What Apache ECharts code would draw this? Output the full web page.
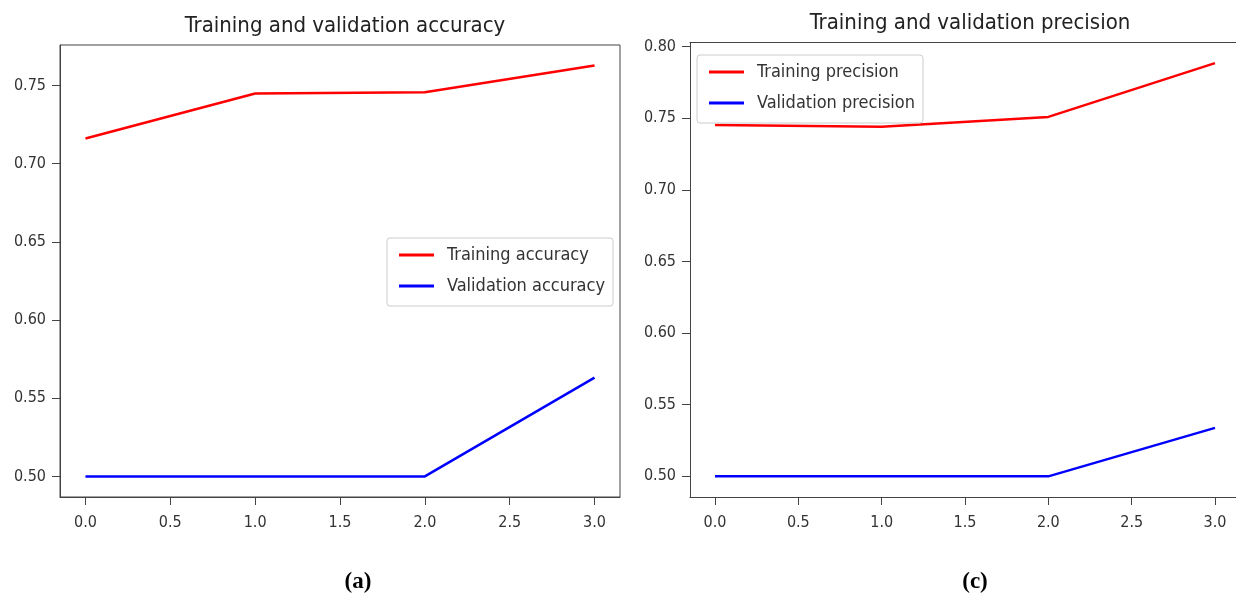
<!DOCTYPE html>
<html>
<head>
<meta charset="utf-8">
<script src="https://cdn.jsdelivr.net/npm/echarts@6/dist/echarts.min.js"></script>
<style>
  html, body { margin: 0; padding: 0; background: #fff; }
  #chart { width: 1236px; height: 594px; }
</style>
</head>
<body>
<div id="chart"></div>
<script>
const epochs = [0, 1, 2, 3];
const trainAcc = [0.7161, 0.7449, 0.7457, 0.7628];
const valAcc = [0.5, 0.5, 0.5, 0.5632];
const trainPrec = [0.7452, 0.7440, 0.7509, 0.7884];
const valPrec = [0.5, 0.5, 0.5, 0.5338];
const xTicks = [0, 0.5, 1, 1.5, 2, 2.5, 3];
const yTicksAcc = [0.5, 0.55, 0.6, 0.65, 0.7, 0.75];
const yTicksPrec = [0.5, 0.55, 0.6, 0.65, 0.7, 0.75, 0.8];

const FONT = '"DejaVu Sans Condensed", "DejaVu Sans", sans-serif';
const AX = '#444';

// matplotlib style 5% margins around the data
function limits(arrs) {
    const all = [].concat(...arrs);
    const lo = Math.min(...all), hi = Math.max(...all);
    const m = (hi - lo) * 0.05;
    return [lo - m, hi + m];
}
const accLim = limits([trainAcc, valAcc]);
const precLim = limits([trainPrec, valPrec]);

const pairs = ys => epochs.map((x, i) => [x, ys[i]]);

function xAxis(gi, max) {
    return {
        type: 'value', gridIndex: gi, min: -0.15, max,
        axisLine: { onZero: false, lineStyle: { color: AX, width: 1 } },
        axisTick: { show: true, length: 8, customValues: xTicks, lineStyle: { color: AX } },
        axisLabel: { customValues: xTicks, margin: 18, color: '#333', fontSize: 16, fontFamily: FONT,
            formatter: v => v.toFixed(1) },
        splitLine: { show: false }
    };
}
function yAxis(gi, lim, ticks) {
    return {
        type: 'value', gridIndex: gi, min: lim[0], max: lim[1],
        axisLine: { show: true, onZero: false, lineStyle: { color: AX, width: 1 } },
        axisTick: { show: true, length: 8, customValues: ticks, lineStyle: { color: AX } },
        axisLabel: { customValues: ticks, margin: 14, color: '#333', fontSize: 16, fontFamily: FONT,
            formatter: v => v.toFixed(2) },
        splitLine: { show: false }
    };
}
function line(name, ys, color, gi) {
    return {
        name, type: 'line', xAxisIndex: gi, yAxisIndex: gi, data: pairs(ys),
        showSymbol: false, symbol: 'none',
        lineStyle: { color, width: 2.5 }, itemStyle: { color },
        animation: false
    };
}
function legend(names, left, top) {
    return {
        data: names, left, top, orient: 'vertical',
        icon: 'rect', itemWidth: 35, itemHeight: 3, itemGap: 11,
        padding: [7, 8, 10, 12],
        backgroundColor: '#fff', borderColor: '#ccc', borderWidth: 1, borderRadius: 3,
        textStyle: { fontSize: 18, fontFamily: FONT, color: '#333', lineHeight: 20, padding: [0, 0, 0, 8] },
        selectedMode: false
    };
}

const chart = echarts.init(document.getElementById('chart'));
chart.setOption({
    animation: false,
    title: [
        { text: 'Training and validation accuracy', left: 340, top: 10, textAlign: 'center',
          textStyle: { fontSize: 22, fontWeight: 'normal', fontFamily: FONT, color: '#222' } },
        { text: 'Training and validation precision', left: 965, top: 7, textAlign: 'center',
          textStyle: { fontSize: 22, fontWeight: 'normal', fontFamily: FONT, color: '#222' } },
        { text: '(a)', left: 353, top: 566, textAlign: 'center',
          textStyle: { fontSize: 23, fontWeight: 'bold', fontFamily: '"Liberation Serif", serif', color: '#000' } },
        { text: '(c)', left: 970, top: 566, textAlign: 'center',
          textStyle: { fontSize: 23, fontWeight: 'bold', fontFamily: '"Liberation Serif", serif', color: '#000' } }
    ],
    grid: [
        { left: 60, width: 560, top: 45, height: 452, show: true, borderColor: AX, borderWidth: 1, backgroundColor: 'transparent' },
        // right panel is cut off by the picture edge, so no right border
        { left: 690, right: 0, top: 42.5, height: 454.5, show: false }
    ],
    legend: [
        legend(['Training accuracy', 'Validation accuracy'], 387, 238),
        legend(['Training precision', 'Validation precision'], 697, 55)
    ],
    xAxis: [
        xAxis(0, 3.15),
        xAxis(1, 3.126),
        { type: 'value', gridIndex: 1, position: 'top', min: -0.15, max: 3.126,
          axisLine: { show: true, onZero: false, lineStyle: { color: AX, width: 1 } },
          axisTick: { show: false }, axisLabel: { show: false }, splitLine: { show: false } }
    ],
    yAxis: [yAxis(0, accLim, yTicksAcc), yAxis(1, precLim, yTicksPrec)],
    series: [
        line('Training accuracy', trainAcc, '#ff0000', 0),
        line('Validation accuracy', valAcc, '#0000ff', 0),
        line('Training precision', trainPrec, '#ff0000', 1),
        line('Validation precision', valPrec, '#0000ff', 1)
    ]
});
</script>
</body>
</html>
